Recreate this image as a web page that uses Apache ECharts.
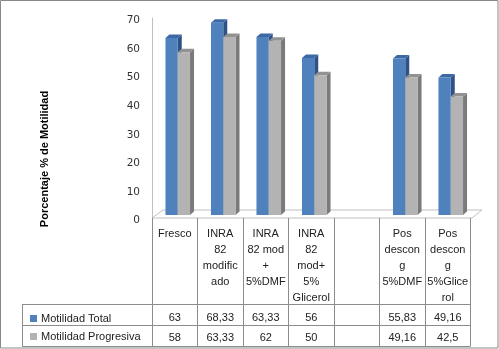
<!DOCTYPE html>
<html><head><meta charset="utf-8">
<script src="https://cdn.jsdelivr.net/npm/echarts@6/dist/echarts.min.js"></script>
<style>html,body{margin:0;padding:0;background:#fff}#c{width:499px;height:349px}</style>
</head><body><div id="c"></div>
<script>
const categories = ['Fresco', 'INRA\n82\nmodific\nado', 'INRA\n82 mod\n+\n5%DMF', 'INRA\n82\nmod+\n5%\nGlicerol', '', 'Pos\ndescon\ng\n5%DMF', 'Pos\ndescon\ng\n5%Glice\nrol'];
const seriesNames = ['Motilidad Total', 'Motilidad Progresiva'];
const motilidadTotal = [63, 68.33, 63.33, 56, null, 55.83, 49.16];
const motilidadProgresiva = [58, 63.33, 62, 50, null, 49.16, 42.5];
const yTicks = {min: 0, max: 70, interval: 10};
const yTitle = 'Porcentaje % de Motilidad';

const fmt = v => (v === null || v === undefined) ? '' : String(v).replace('.', ',');
const G = {left: 152, top: 18, width: 318.5, height: 200};
const FONT = 'Liberation Sans';

const faces = [
  {front: '#4F81BD', side: '#2E5286', top: '#3D68A6'},
  {front: '#B3B3B3', side: '#7A7A7A', top: '#929292'}
];
function makeRender(si) {
  return function (params, api) {
    const v = api.value(1);
    if (v === null || v === undefined || isNaN(v)) return;
    const p = api.coord([api.value(0), v]);
    const p0 = api.coord([api.value(0), 0]);
    const band = api.size([1, 0])[0];
    const bw = band * 0.27;
    const pc = p[0] + band * 0.066;
    const x0 = si === 0 ? pc - bw : pc;
    const x1 = x0 + bw;
    const top = p[1], base = p0[1] - 3;
    const dx = 4, dy = 3.5;
    const c = faces[si];
    return {type: 'group', children: [
      {type: 'polygon', shape: {points: [[x1, top], [x1 + dx, top - dy], [x1 + dx, base - dy], [x1, base]]}, style: {fill: c.side}},
      {type: 'polygon', shape: {points: [[x0, top], [x0 + dx, top - dy], [x1 + dx, top - dy], [x1, top]]}, style: {fill: c.top}},
      {type: 'rect', shape: {x: x0, y: top, width: bw, height: base - top}, style: {fill: c.front}}
    ]};
  };
}

const chart = echarts.init(document.getElementById('c'), null, {renderer: 'canvas'});
const baseY = G.top + G.height;
const right = G.left + G.width;
const lineStyle = {stroke: '#8c8c8c', lineWidth: 1};
const floorStyle = {stroke: '#bfbfbf', lineWidth: 1, fill: 'none'};

const option = {
  animation: false,
  color: [faces[0].front, faces[1].front],
  grid: {left: G.left, top: G.top, width: G.width, height: G.height},
  xAxis: [
    {type: 'category', data: categories, boundaryGap: true,
     axisLine: {show: false},
     axisTick: {show: true, interval: 0, length: 128, lineStyle: {color: '#8c8c8c'}},
     axisLabel: {interval: 0, margin: 8, fontFamily: FONT, fontSize: 11, color: '#222', lineHeight: 16, verticalAlign: 'top', align: 'center'}},
    {type: 'category', data: categories, position: 'bottom', offset: 100,
     axisLine: {show: false}, axisTick: {show: false},
     axisLabel: {interval: 0, margin: 0, verticalAlign: 'middle', fontFamily: FONT, fontSize: 11, color: '#222',
       formatter: (val, idx) => fmt(motilidadTotal[idx])}},
    {type: 'category', data: categories, position: 'bottom', offset: 120,
     axisLine: {show: false}, axisTick: {show: false},
     axisLabel: {interval: 0, margin: 0, verticalAlign: 'middle', fontFamily: FONT, fontSize: 11, color: '#222',
       formatter: (val, idx) => fmt(motilidadProgresiva[idx])}}
  ],
  yAxis: {type: 'value', min: yTicks.min, max: yTicks.max, interval: yTicks.interval,
    axisLine: {show: true, lineStyle: {color: '#bfbfbf'}}, axisTick: {show: false}, splitLine: {show: false},
    axisLabel: {margin: 12, formatter: '{a|{value}}',
      rich: {a: {fontFamily: 'DejaVu Sans', fontSize: 10.5, color: '#333', padding: [5, 0, 0, 0]}}}},
  legend: {orient: 'vertical', left: 25, top: 308, itemWidth: 7, itemHeight: 7, itemGap: 7, icon: 'rect',
    selectedMode: false, textStyle: {fontFamily: FONT, fontSize: 11, color: '#222', padding: [0, 0, 0, -1]},
    data: seriesNames},
  series: [
    {name: seriesNames[0], type: 'custom', renderItem: makeRender(0), itemStyle: {color: faces[0].front},
     data: motilidadTotal.map((v, i) => [i, v === null ? '-' : v])},
    {name: seriesNames[1], type: 'custom', renderItem: makeRender(1), itemStyle: {color: faces[1].front},
     data: motilidadProgresiva.map((v, i) => [i, v === null ? '-' : v])}
  ],
  graphic: [
    {type: 'rect', shape: {x: 0.5, y: 0.5, width: 497.5, height: 347.5}, style: {fill: 'none', stroke: '#888', lineWidth: 1}, z: 100},
    {type: 'polyline', shape: {points: [[G.left, baseY], [G.left + 11, baseY - 8], [right + 11.5, baseY - 8], [right + 1.5, baseY], [G.left, baseY]]}, style: floorStyle, z: -1},
    {type: 'line', shape: {x1: 22, y1: 304.5, x2: right, y2: 304.5}, style: lineStyle},
    {type: 'line', shape: {x1: 22, y1: 325.5, x2: right, y2: 325.5}, style: lineStyle},
    {type: 'line', shape: {x1: 22, y1: 346.5, x2: right, y2: 346.5}, style: lineStyle},
    {type: 'line', shape: {x1: 22.5, y1: 304.5, x2: 22.5, y2: 346.5}, style: lineStyle},
    {type: 'text', x: 45, y: 159, rotation: Math.PI / 2,
     style: {text: yTitle, fontFamily: FONT, fontSize: 11, fontWeight: 'bold', fill: '#000', align: 'center', verticalAlign: 'middle'}}
  ]
};
chart.setOption(option);
</script></body></html>
